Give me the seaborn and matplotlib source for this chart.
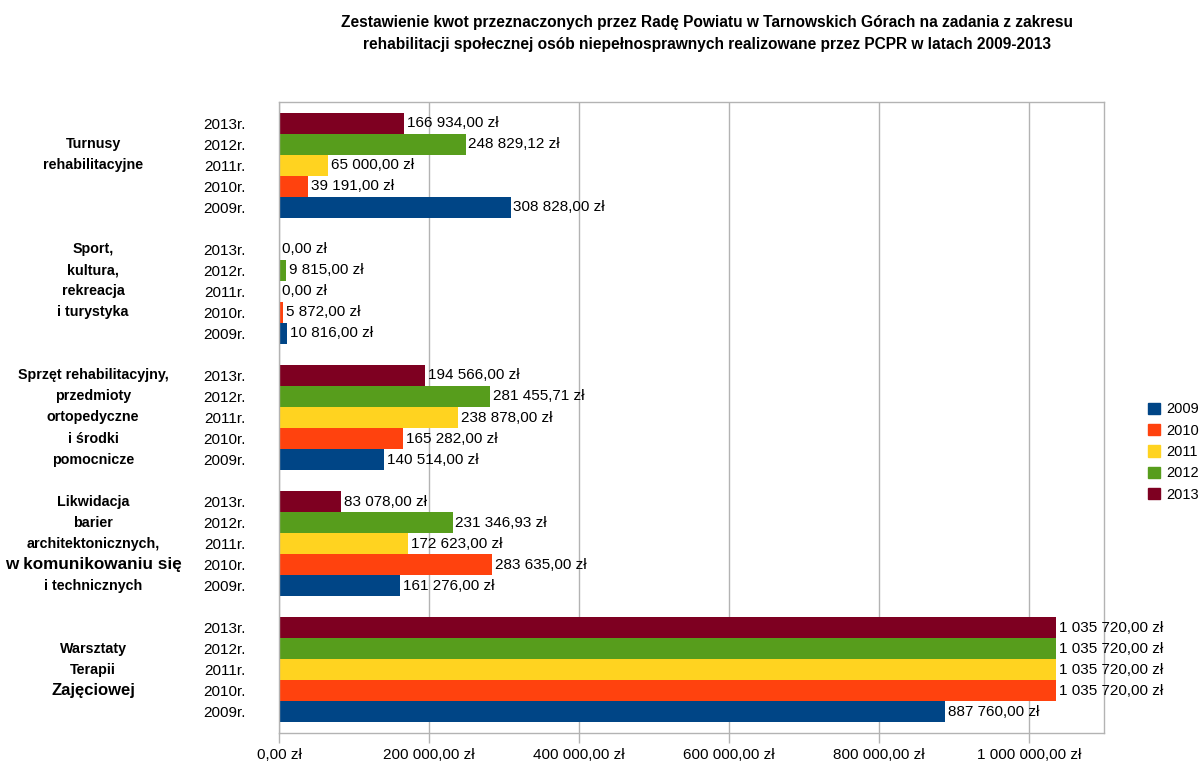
import matplotlib
matplotlib.use("Agg")
import matplotlib.pyplot as plt
import matplotlib.transforms as mtransforms
from matplotlib.patches import Patch
import seaborn as sns
import pandas as pd

# dane z wykresu
kategorie = ["Turnusy", "Sport", "Sprzet", "Likwidacja", "Warsztaty"]
lata = ["2009", "2010", "2011", "2012", "2013"]
kwoty_2009 = [308828.00, 10816.00, 140514.00, 161276.00, 887760.00]
kwoty_2010 = [39191.00, 5872.00, 165282.00, 283635.00, 1035720.00]
kwoty_2011 = [65000.00, 0.00, 238878.00, 172623.00, 1035720.00]
kwoty_2012 = [248829.12, 9815.00, 281455.71, 231346.93, 1035720.00]
kwoty_2013 = [166934.00, 0.00, 194566.00, 83078.00, 1035720.00]
kolory = ["#004586", "#ff420e", "#ffd320", "#579d1c", "#7e0021"]

etykiety_kategorii = [
    ["Turnusy", "rehabilitacyjne"],
    ["Sport,", "kultura,", "rekreacja", "i turystyka"],
    ["Sprzęt rehabilitacyjny,", "przedmioty", "ortopedyczne", "i środki", "pomocnicze"],
    ["Likwidacja", "barier", "architektonicznych,", "w komunikowaniu się", "i technicznych"],
    ["Warsztaty", "Terapii", "Zajęciowej"],
]
pierwszy_wiersz = [1, 0, 0, 0, 1]
tytul = ("Zestawienie kwot przeznaczonych przez Radę Powiatu w Tarnowskich Górach na zadania z zakresu\n"
         "rehabilitacji społecznej osób niepełnosprawnych realizowane przez PCPR w latach 2009-2013")

kwoty = [kwoty_2009, kwoty_2010, kwoty_2011, kwoty_2012, kwoty_2013]
rows = []
for rok, wartosci in zip(lata, kwoty):
    for kat, v in zip(kategorie, wartosci):
        rows.append({"kategoria": kat, "rok": rok, "kwota": v})
df = pd.DataFrame(rows)

sns.set_theme(style="white")
plt.rcParams["font.family"] = ["Liberation Sans", "DejaVu Sans"]
plt.rcParams["text.color"] = "black"
plt.rcParams["xtick.labelcolor"] = "black"
plt.rcParams["ytick.labelcolor"] = "black"


def zl(v):
    return f"{v:,.2f}".replace(",", " ").replace(".", ",") + " zł"


fig, ax = plt.subplots(figsize=(12, 7.63), dpi=100)
fig.subplots_adjust(left=279 / 1200, right=1104 / 1200, top=1 - 102 / 763, bottom=1 - 733 / 763)

kolejnosc = lata[::-1]
paleta = dict(zip(lata, kolory))
sns.barplot(data=df, y="kategoria", x="kwota", hue="rok", hue_order=kolejnosc,
            order=kategorie, palette=paleta, orient="h", width=5 / 6,
            saturation=1, legend=False, linewidth=0, ax=ax)

for cont in ax.containers:
    ax.bar_label(cont, labels=[zl(b.get_width()) for b in cont], padding=2, fontsize=11, color="black")

# osie
ax.set_xlim(0, 1100000)
ax.set_xticks(range(0, 1000001, 200000))
ax.set_xticklabels([zl(t) for t in range(0, 1000001, 200000)], fontsize=11)
ax.tick_params(axis="x", length=7, width=1, color="#b3b3b3", pad=4, bottom=True)

yt, yl = [], []
for i in range(len(kategorie)):
    for k, rok in enumerate(kolejnosc):
        yt.append(i + (k - 2) / 6)
        yl.append(rok + "r.")
ax.set_yticks(yt)
ax.set_yticklabels(yl, fontsize=11)
ax.tick_params(axis="y", length=0, pad=24)
ax.set_ylim(4.5, -0.5)
ax.set_xlabel("")
ax.set_ylabel("")

ax.grid(axis="x", color="#b3b3b3", linewidth=1)
ax.set_axisbelow(True)
for s in ax.spines.values():
    s.set_color("#b3b3b3")
    s.set_linewidth(1)

# nazwy kategorii
tr = mtransforms.blended_transform_factory(fig.transFigure, ax.transData)
for i, linie in enumerate(etykiety_kategorii):
    for j, tekst in enumerate(linie):
        if tekst == "Zajęciowej":
            rozmiar = 12
        elif tekst == "w komunikowaniu się":
            rozmiar = 12.3
        else:
            rozmiar = 10.3
        ax.text(93 / 1200, i + (pierwszy_wiersz[i] + j - 2) / 6, tekst, transform=tr,
                ha="center", va="center", fontsize=rozmiar, fontweight="bold")

# legenda
uchwyty = [Patch(facecolor=c, edgecolor=c) for c in kolory]
fig.legend(uchwyty, lata, loc="center left", bbox_to_anchor=(1148 / 1200, 1 - 452 / 763),
           frameon=False, fontsize=10.5, handlelength=0.8, handleheight=0.8,
           handletextpad=0.45, labelspacing=0.5, borderaxespad=0, borderpad=0)

fig.suptitle(tytul, x=707 / 1200, y=1 - 15 / 763, va="top", fontsize=11.2,
             fontweight="bold", linespacing=1.55)

fig.savefig("out.png", dpi=100)
